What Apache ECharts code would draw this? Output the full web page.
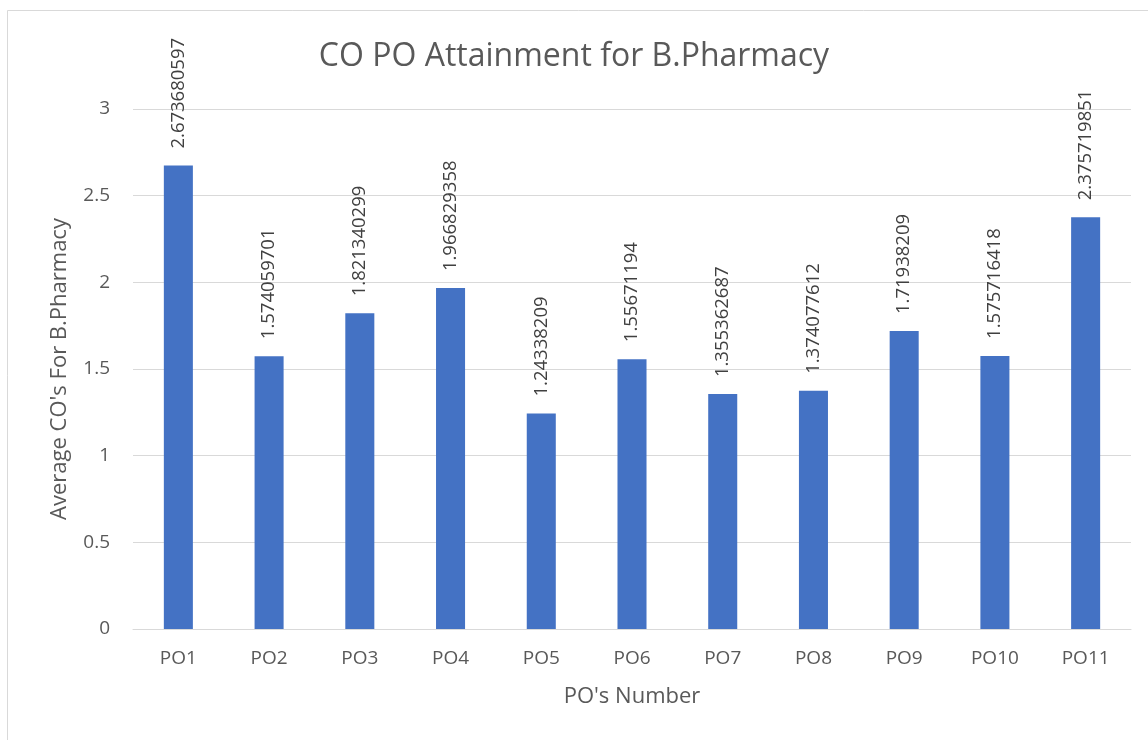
<!DOCTYPE html>
<html>
<head>
<meta charset="utf-8">
<script src="https://cdn.jsdelivr.net/npm/echarts@6/dist/echarts.min.js"></script>
<style>
  html, body { margin: 0; padding: 0; background: #fff; }
  #chart { width: 1148px; height: 740px; }
</style>
</head>
<body>
<div id="chart"></div>
<script>
// categories and values
var poNames = ['PO1', 'PO2', 'PO3', 'PO4', 'PO5', 'PO6', 'PO7', 'PO8', 'PO9', 'PO10', 'PO11'];
var poValues = [2.673680597, 1.574059701, 1.821340299, 1.966829358, 1.24338209, 1.55671194,
                1.355362687, 1.374077612, 1.71938209, 1.575716418, 2.375719851];
var yTicks = [0, 0.5, 1, 1.5, 2, 2.5, 3];

var font = '"Open Sans", "Noto Sans", sans-serif';
var myChart = echarts.init(document.getElementById('chart'));

myChart.setOption({
    backgroundColor: '#fff',
    animation: false,
    title: {
        text: 'CO PO Attainment for B.Pharmacy',
        left: 'center',
        top: 36,
        textStyle: { color: '#595959', fontSize: 32, fontWeight: 'normal', fontFamily: font }
    },
    graphic: [{
        type: 'rect',
        shape: { x: 7.5, y: 10.5, width: 1150, height: 740 },
        style: { fill: 'none', stroke: '#d9d9d9', lineWidth: 1 }
    }],
    grid: { left: 133, right: 17, top: 109, bottom: 111 },
    xAxis: {
        type: 'category',
        data: poNames,
        name: "PO's Number",
        nameLocation: 'middle',
        nameGap: 57,
        nameTextStyle: { color: '#595959', fontSize: 22, fontFamily: font },
        axisLine: { lineStyle: { color: '#d9d9d9', width: 1 } },
        axisTick: { show: false },
        axisLabel: { color: '#595959', fontSize: 19, margin: 20, fontFamily: font }
    },
    yAxis: {
        type: 'value',
        min: yTicks[0],
        max: yTicks[yTicks.length - 1],
        interval: 0.5,
        name: "Average CO's For B.Pharmacy",
        nameLocation: 'middle',
        nameGap: 62,
        nameTextStyle: { color: '#595959', fontSize: 22, fontFamily: font },
        axisLine: { show: false },
        axisTick: { show: false },
        splitLine: { lineStyle: { color: '#d9d9d9', width: 1 } },
        axisLabel: { color: '#595959', fontSize: 19, margin: 23, fontFamily: font }
    },
    series: [{
        type: 'bar',
        data: poValues,
        barWidth: '32%',
        itemStyle: { color: '#4472C4' },
        label: {
            show: true,
            position: 'top',
            rotate: 90,
            align: 'left',
            verticalAlign: 'middle',
            distance: 17,
            color: '#404040',
            fontSize: 18.5,
            fontFamily: font,
            formatter: function (p) { return String(p.value); }
        }
    }]
});
</script>
</body>
</html>
